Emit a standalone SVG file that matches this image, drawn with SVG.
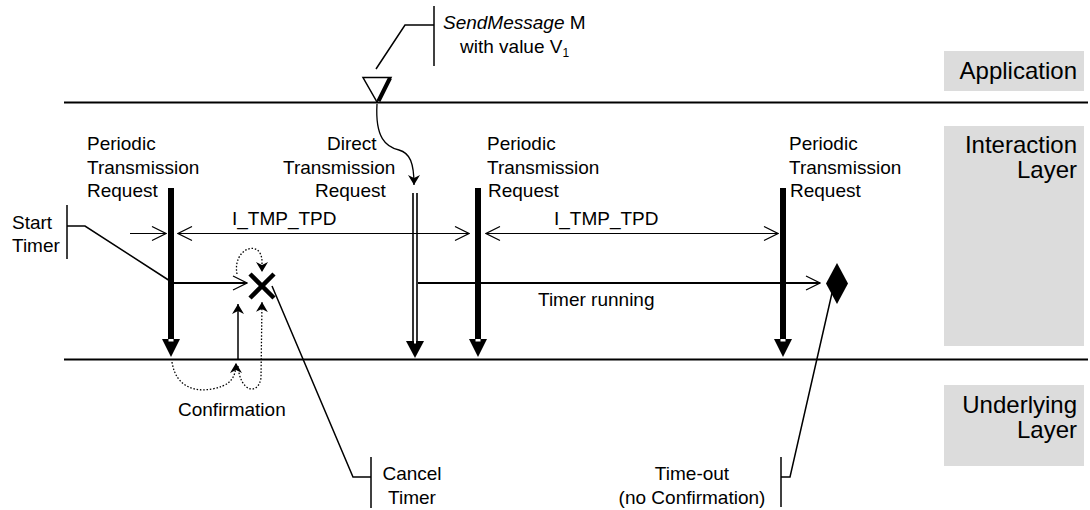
<svg xmlns="http://www.w3.org/2000/svg" width="1090" height="510" viewBox="0 0 1090 510">
<style>
text{font-family:"Liberation Sans",Arial,sans-serif;font-size:19px;fill:#000}
.big{font-size:24px}
.ln{stroke:#000;fill:none}
.dot{stroke:#000;fill:none;stroke-width:1.3;stroke-dasharray:1.5 1.8}
.box{fill:#dcdcdc}
</style>
<defs>
<marker id="open" viewBox="0 0 16 16" refX="15" refY="8" markerWidth="16" markerHeight="16" markerUnits="userSpaceOnUse" orient="auto-start-reverse">
<path d="M1,1 L15,8 L1,15" fill="none" stroke="#000" stroke-width="1.2"/>
</marker>
<marker id="fill" viewBox="0 0 10 12" refX="10" refY="6" markerWidth="10" markerHeight="12" markerUnits="userSpaceOnUse" orient="auto">
<path d="M0,0 L10,6 L0,12 L3,6 Z" fill="#000"/>
</marker>
</defs>
<rect width="1090" height="510" fill="#fff"/>

<g id="layers">
<rect class="box" x="944" y="51" width="140" height="40"/>
<text class="big" x="1077" y="79" text-anchor="end">Application</text>
<rect class="box" x="944" y="126" width="140" height="220"/>
<text class="big" x="1077" y="153" text-anchor="end">Interaction</text>
<text class="big" x="1077" y="178" text-anchor="end">Layer</text>
<rect class="box" x="944" y="385" width="140" height="81"/>
<text class="big" x="1077" y="413" text-anchor="end">Underlying</text>
<text class="big" x="1077" y="438" text-anchor="end">Layer</text>
<line class="ln" x1="64" y1="102.5" x2="1088" y2="102.5" stroke-width="2"/>
<line class="ln" x1="64" y1="359.5" x2="1088" y2="359.5" stroke-width="2"/>
</g>

<g id="connectors">
<polyline class="ln" points="376,69 405,25 434,25" stroke-width="1.5"/>
<line class="ln" x1="434" y1="6" x2="434" y2="66" stroke-width="1.5"/>
<path class="ln" d="M377,104 C375,138 386,147 399,150 C410,153 414,163 414,185" stroke-width="1.3" marker-end="url(#fill)"/>
<line class="ln" x1="67" y1="205" x2="67" y2="259" stroke-width="1.5"/>
<polyline class="ln" points="67,226 85,226 170,281" stroke-width="1.5"/>
<line class="ln" x1="172" y1="283" x2="247" y2="283" stroke-width="1.8" marker-end="url(#open)"/>
<line class="ln" x1="130" y1="233.5" x2="166" y2="233.5" stroke="#333" stroke-width="1.2" marker-end="url(#open)"/>
<line class="ln" x1="178" y1="233.5" x2="469" y2="233.5" stroke="#333" stroke-width="1.2" marker-start="url(#open)" marker-end="url(#open)"/>
<line class="ln" x1="486" y1="233.5" x2="778" y2="233.5" stroke="#333" stroke-width="1.2" marker-start="url(#open)" marker-end="url(#open)"/>
<line class="ln" x1="418" y1="283" x2="820" y2="283" stroke-width="2" marker-end="url(#open)"/>
<line class="ln" x1="238" y1="359" x2="238" y2="304" stroke-width="1.5" marker-end="url(#fill)"/>
<path class="dot" d="M172,362 C176,388 196,392 212,389 C228,386 236,380 236,363" marker-end="url(#fill)"/>
<path class="dot" d="M238,366 C240,392 258,396 261,378 L262,302" marker-end="url(#fill)"/>
<path class="dot" d="M237,274 C232,248 262,238 262,262 L262,272" marker-end="url(#fill)"/>
<polyline class="ln" points="272,286 353,477 371,477" stroke-width="1.5"/>
<line class="ln" x1="371" y1="457" x2="371" y2="508" stroke-width="1.5"/>
<polyline class="ln" points="832,293 790,477 781,477" stroke-width="1.5"/>
<line class="ln" x1="781" y1="457" x2="781" y2="507" stroke-width="1.5"/>
</g>

<g id="send-message">
<polygon points="363,77.5 391,77.5 377,102" fill="#fff" stroke="#000" stroke-width="1.5"/>
<line x1="390" y1="78" x2="378.5" y2="101" stroke="#000" stroke-width="4"/>
<text x="443" y="29"><tspan font-style="italic">SendMessage</tspan> M</text>
<text x="460" y="53">with value V<tspan font-size="12" dy="4">1</tspan></text>
</g>

<g id="periodic-1">
<rect x="168" y="188" width="6" height="152" fill="#000"/>
<polygon points="162,339 180,339 171,357" fill="#000"/>
<rect x="168.5" y="339" width="5" height="2.5" fill="#fff"/>
<text x="87" y="150">Periodic</text>
<text x="87" y="174">Transmission</text>
<text x="87" y="197">Request</text>
</g>

<g id="direct">
<line x1="413" y1="193" x2="413" y2="342" stroke="#000" stroke-width="1.6"/>
<line x1="417" y1="193" x2="417" y2="342" stroke="#000" stroke-width="1.6"/>
<polygon points="406,341 424,341 415,358" fill="#000"/>
<rect x="414" y="341" width="2" height="2.5" fill="#fff"/>
<text x="327" y="150">Direct</text>
<text x="283" y="174">Transmission</text>
<text x="315" y="197">Request</text>
</g>

<g id="periodic-2">
<rect x="475" y="188" width="6" height="152" fill="#000"/>
<polygon points="469,339 487,339 478,357" fill="#000"/>
<rect x="475.5" y="339" width="5" height="2.5" fill="#fff"/>
<text x="487" y="150">Periodic</text>
<text x="487" y="174">Transmission</text>
<text x="488" y="197">Request</text>
</g>

<g id="periodic-3">
<rect x="780" y="188" width="6" height="152" fill="#000"/>
<polygon points="774,339 792,339 783,357" fill="#000"/>
<rect x="780.5" y="339" width="5" height="2.5" fill="#fff"/>
<text x="789" y="150">Periodic</text>
<text x="789" y="174">Transmission</text>
<text x="790" y="197">Request</text>
</g>

<g id="cancel-mark">
<path d="M250,274 L274,298 M274,274 L250,298" stroke="#000" stroke-width="4.5"/>
</g>

<g id="timeout-mark">
<polygon points="837,263 848,283.5 837,304 826,283.5" fill="#000"/>
</g>

<g id="labels">
<text x="12" y="229">Start</text>
<text x="12" y="252">Timer</text>
<text x="232" y="225">I_TMP_TPD</text>
<text x="554" y="225">I_TMP_TPD</text>
<text x="538" y="306">Timer running</text>
<text x="178" y="416">Confirmation</text>
<text x="412" y="480" text-anchor="middle">Cancel</text>
<text x="412" y="504" text-anchor="middle">Timer</text>
<text x="692" y="480" text-anchor="middle">Time-out</text>
<text x="692" y="504" text-anchor="middle">(no Confirmation)</text>
</g>
</svg>
